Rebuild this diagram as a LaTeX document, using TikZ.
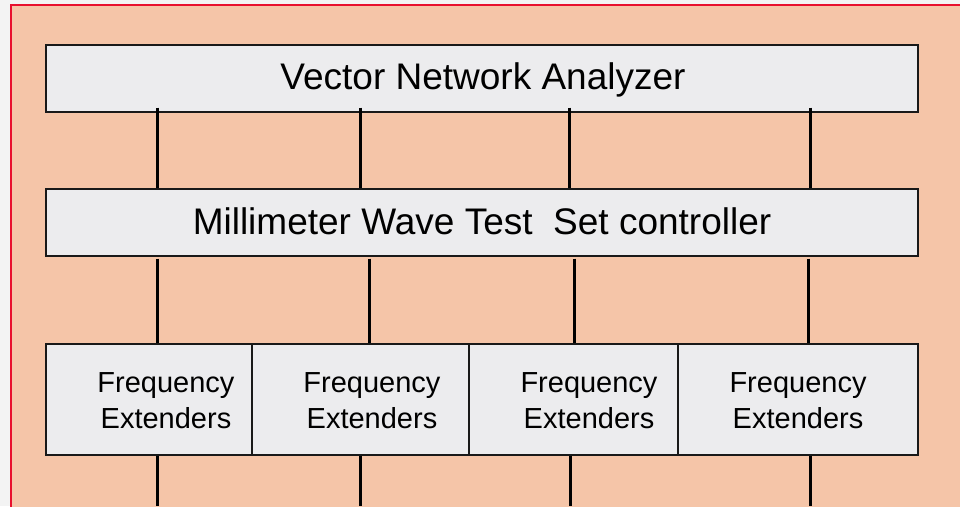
\documentclass[tikz,border=0pt]{standalone}
\usepackage{fontspec}
\setmainfont{Liberation Sans}
\definecolor{pagegray}{HTML}{F3F3F3}
\definecolor{panelfill}{HTML}{F5C5A8}
\definecolor{panelred}{HTML}{E8102E}
\definecolor{boxfill}{HTML}{ECECEE}
\tikzset{
  unitbox/.style={draw=black!90, line width=1.5pt, fill=boxfill, inner sep=0pt, anchor=north west},
  bigtext/.style={font=\fontsize{37}{44}\selectfont, inner sep=0pt, anchor=base},
  smalltext/.style={font=\fontsize{29}{36}\selectfont, inner sep=0pt, anchor=base},
  link/.style={draw=black, line width=3pt},
}
\begin{document}
\begin{tikzpicture}[x=1pt,y=-1pt]
  % page and panel
  \fill[pagegray] (0,0) rectangle (960,506);
  \useasboundingbox (0,0) rectangle (960,506);
  \fill[panelfill] (11,5) rectangle (964,510);
  \draw[panelred, line width=2pt] (11,510) -- (11,5) -- (964,5);

  % connectors (drawn first so the boxes sit over their ends)
  \coordinate (b1) at (157,506);
  \coordinate (b2) at (360,506);
  \coordinate (b3) at (570,506);
  \coordinate (b4) at (810,506);

  % boxes
  \node[unitbox, minimum width=872pt, minimum height=67pt] (vna) at (45,44) {};
  \node[unitbox, minimum width=872pt, minimum height=67pt] (ctrl) at (45,188) {};
  \node[unitbox, minimum width=206pt, minimum height=111pt] (fe1) at (45,343) {};
  \node[unitbox, minimum width=217pt, minimum height=111pt] (fe2) at (251,343) {};
  \node[unitbox, minimum width=209pt, minimum height=111pt] (fe3) at (468,343) {};
  \node[unitbox, minimum width=240pt, minimum height=111pt] (fe4) at (677,343) {};

  % links between the analyzer and the controller
  \draw[link] ([yshift=5pt]vna.south -| 157,0) -- (ctrl.north -| 157,0);
  \draw[link] ([yshift=5pt]vna.south -| 360,0) -- (ctrl.north -| 360,0);
  \draw[link] ([yshift=5pt]vna.south -| 569,0) -- (ctrl.north -| 569,0);
  \draw[link] ([yshift=5pt]vna.south -| 810,0) -- (ctrl.north -| 810,0);

  % links between the controller and the extenders
  \draw[link] ([yshift=-2pt]ctrl.south -| 157,0) -- (fe1.north -| 157,0);
  \draw[link] ([yshift=-2pt]ctrl.south -| 369,0) -- (fe2.north -| 369,0);
  \draw[link] ([yshift=-2pt]ctrl.south -| 574,0) -- (fe3.north -| 574,0);
  \draw[link] ([yshift=-2pt]ctrl.south -| 808,0) -- (fe4.north -| 808,0);

  % outgoing ports
  \draw[link] (fe1.south -| b1) -- (b1);
  \draw[link] (fe2.south -| b2) -- (b2);
  \draw[link] (fe3.south -| b3) -- (b3);
  \draw[link] (fe4.south -| b4) -- (b4);

  % labels
  \node[bigtext] (vnat) at (483,89) {Vector Network Analyzer};
  \node[bigtext] (ctrlt) at (482,234) {Millimeter Wave Test\ \ Set controller};

  \node[smalltext] (f1a) at (166,392) {Frequency};
  \node[smalltext] (f1b) at (166,428) {Extenders};
  \node[smalltext] (f2a) at (372,392) {Frequency};
  \node[smalltext] (f2b) at (372,428) {Extenders};
  \node[smalltext] (f3a) at (589,392) {Frequency};
  \node[smalltext] (f3b) at (589,428) {Extenders};
  \node[smalltext] (f4a) at (798,392) {Frequency};
  \node[smalltext] (f4b) at (798,428) {Extenders};
\end{tikzpicture}
\end{document}
